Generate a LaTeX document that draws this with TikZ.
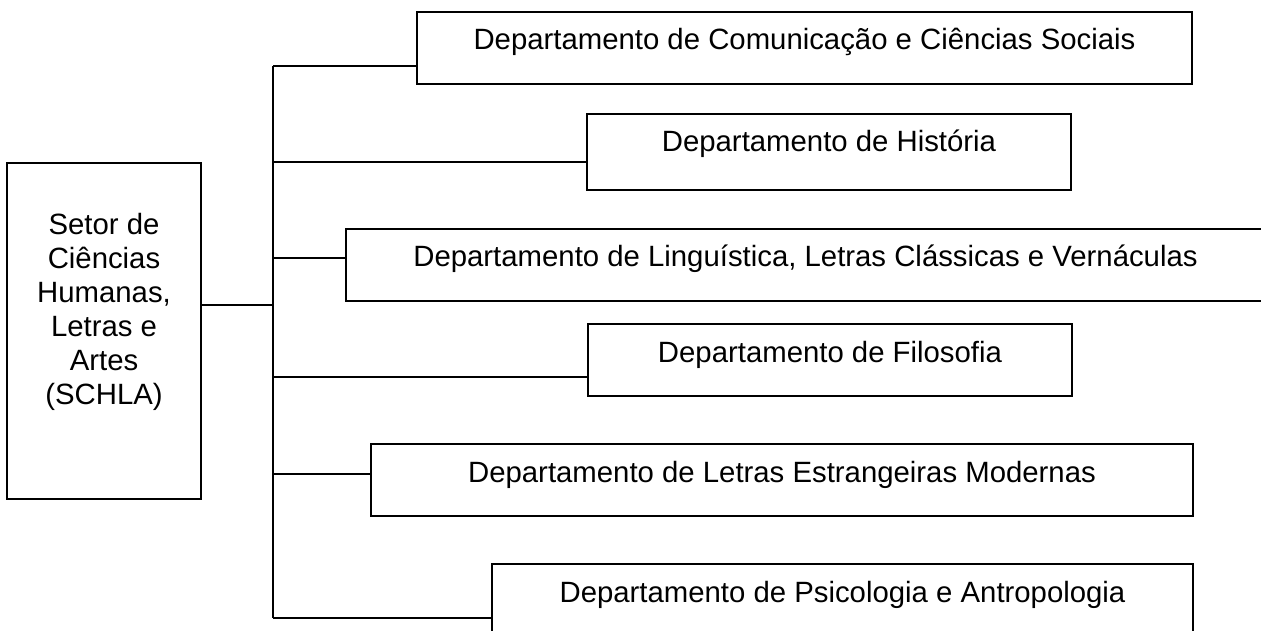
\documentclass[tikz,border=0pt]{standalone}
\usepackage{fontspec}
\setmainfont{Liberation Sans}
\usepackage{tikz}

\tikzset{
  deptbox/.style={draw, line width=1pt, rectangle, inner sep=0pt, minimum height=54pt,
    text height=28.5pt, text depth=25.5pt, font=\fontsize{22}{25.5}\selectfont},
  setorbox/.style={draw, line width=1pt, rectangle, inner sep=0pt},
  setortext/.style={inner sep=0pt, align=center, anchor=north, font=\fontsize{22}{25.5}\selectfont},
  link/.style={line width=1pt}
}

\begin{document}
\begin{tikzpicture}[x=0.75pt,y=0.75pt,yscale=-1,xscale=1]

\useasboundingbox (0,0) rectangle (1261,631);
\clip (0,0) rectangle (1261,631);

\node [setorbox, minimum width=145.5pt, minimum height=252pt] (setor) at (104,331) {};

\node [setortext] (setorlbl) at (104,213) {Setor de\\Ciências\\Humanas,\\Letras e\\Artes\\(SCHLA)};

\node [deptbox, minimum width=581.25pt] (d1) at (804.5,48) {Departamento de Comunicação e Ciências Sociais};

\node [deptbox, minimum width=363pt, minimum height=57pt, text depth=28.5pt] (d2) at (829,152) {Departamento de História};

\node [deptbox, minimum width=689.25pt] (d3) at (805.5,265) {Departamento de Linguística, Letras Clássicas e Vernáculas};

\node [deptbox, minimum width=363pt] (d4) at (830,360) {Departamento de Filosofia};

\node [deptbox, minimum width=616.5pt] (d5) at (782,480) {Departamento de Letras Estrangeiras Modernas};

\node [deptbox, minimum width=525.75pt] (d6) at (842.5,600) {Departamento de Psicologia e Antropologia};

\coordinate (jm) at (273,305);
\coordinate (j1) at (273,66);
\coordinate (j2) at (273,162);
\coordinate (j3) at (273,258);
\coordinate (j4) at (273,377);
\coordinate (j5) at (273,474);
\coordinate (j6) at (273,618);

\draw [link] (setor.east |- jm) -- (jm);

\draw [link] (j1) -- (j6);

\draw [link] (j1) -- (j1 -| d1.west);

\draw [link] (j2) -- (j2 -| d2.west);

\draw [link] (j3) -- (j3 -| d3.west);

\draw [link] (j4) -- (j4 -| d4.west);

\draw [link] (j5) -- (j5 -| d5.west);

\draw [link] (j6) -- (j6 -| d6.west);

\end{tikzpicture}
\end{document}
